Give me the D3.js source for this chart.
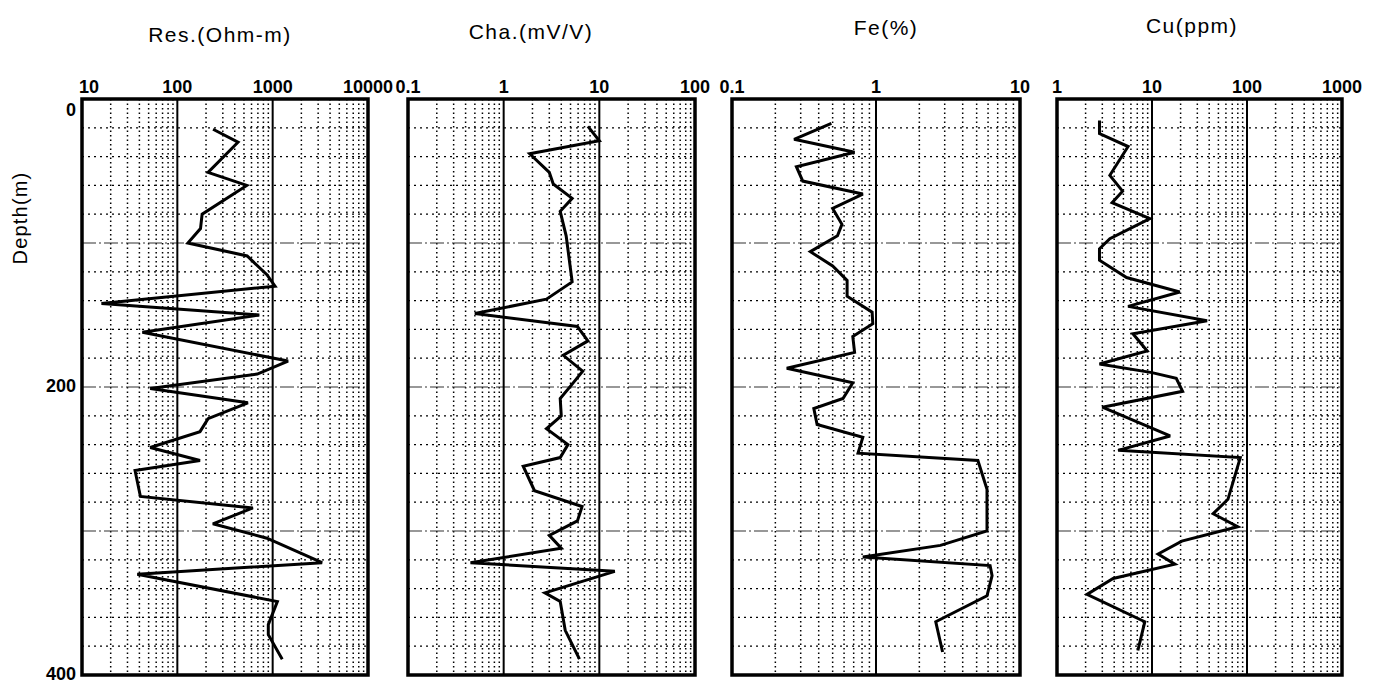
<!DOCTYPE html>
<html>
<head>
<meta charset="utf-8">
<script src="https://cdn.jsdelivr.net/npm/d3@7"></script>
<style>
  body { margin: 0; background: #fff; }
  text { font-family: "Liberation Sans", Arial, sans-serif; fill: #000; }
</style>
</head>
<body>
<svg id="chart" width="1382" height="690"></svg>
<script>
const resDepth = [21, 30, 51, 60, 80, 90, 100, 109, 122, 130, 142, 150, 162, 182, 191, 201, 211, 222, 231, 242, 251, 258, 276, 284, 295, 305, 322, 330, 349, 365, 372, 389];
const resValue = [237, 433, 210, 535, 182, 175, 129, 540, 870, 1060, 16, 724, 43, 1450, 690, 52, 550, 210, 173, 52, 173, 36, 41, 620, 236, 870, 3300, 38, 1120, 900, 900, 1260];

const chaDepth = [19, 29, 38, 51, 59, 69, 78, 95, 127, 139, 149, 158, 168, 178, 189, 198, 208, 220, 229, 240, 249, 255, 272, 283, 293, 303, 312, 322, 328, 343, 349, 369, 389];
const chaValue = [7.6, 10, 1.87, 3.0, 3.3, 5.2, 3.9, 4.5, 5.2, 2.8, 0.5, 5.9, 7.6, 4.2, 6.7, 5.2, 3.9, 4.0, 2.8, 4.7, 3.9, 1.6, 2.1, 6.6, 5.9, 3.0, 4.0, 0.45, 14.5, 2.7, 3.9, 4.4, 6.2];

const feDepth = [17, 28, 37, 47, 57, 66, 76, 87, 95, 106, 116, 126, 137, 148, 156, 165, 176, 187, 197, 208, 215, 226, 235, 246, 251, 271, 300, 310, 318, 324, 331, 345, 363, 384];
const feValue = [0.49, 0.27, 0.71, 0.28, 0.31, 0.81, 0.5, 0.58, 0.54, 0.35, 0.5, 0.63, 0.63, 0.94, 0.95, 0.69, 0.71, 0.24, 0.69, 0.59, 0.37, 0.39, 0.81, 0.75, 5.1, 5.9, 5.9, 2.8, 0.81, 6.2, 6.4, 5.9, 2.6, 2.9];

const cuDepth = [15, 24, 33, 53, 64, 72, 83, 97, 104, 112, 124, 134, 144, 154, 163, 175, 184, 190, 194, 203, 214, 234, 244, 249, 278, 288, 297, 307, 316, 323, 333, 344, 363, 383];
const cuValue = [2.8, 2.8, 5.6, 3.6, 4.9, 3.8, 9.5, 3.6, 2.8, 2.8, 5.4, 19.6, 5.6, 38, 6.3, 8.9, 2.8, 10, 18, 21, 3.0, 15.5, 4.4, 85, 63, 44, 80, 20.6, 11.6, 17.4, 3.9, 2.07, 8.4, 7.1];

const resTicks = [10, 100, 1000, 10000];
const chaTicks = [0.1, 1, 10, 100];
const feTicks = [0.1, 1, 10];
const cuTicks = [1, 10, 100, 1000];
const depthTicks = [0, 200, 400];

const titles = ["Res.(Ohm-m)", "Cha.(mV/V)", "Fe(%)", "Cu(ppm)"];

// layout of the four tracks
const panels = [
  { title: titles[0], ticks: resTicks, depth: resDepth, value: resValue, x0: 82, x1: 368, tx: 220, ty: 42 },
  { title: titles[1], ticks: chaTicks, depth: chaDepth, value: chaValue, x0: 408, x1: 695, tx: 531, ty: 39 },
  { title: titles[2], ticks: feTicks, depth: feDepth, value: feValue, x0: 732, x1: 1020, tx: 886, ty: 35 },
  { title: titles[3], ticks: cuTicks, depth: cuDepth, value: cuValue, x0: 1057, x1: 1342, tx: 1192, ty: 33 }
];

const svg = d3.select("#chart");
const y = d3.scaleLinear().domain([0, 400]).range([99, 675]);

// depth axis
svg.append("text")
  .text("Depth(m)")
  .attr("transform", "translate(27,218) rotate(-90)")
  .attr("text-anchor", "middle")
  .attr("font-size", 20)
  .attr("letter-spacing", 1.2);

svg.selectAll(".dlab")
  .data(depthTicks)
  .join("text")
  .attr("class", "dlab")
  .text((d) => d)
  .attr("x", 76)
  .attr("y", (d) => y(d) + (d === 0 ? 12 : 0))
  .attr("text-anchor", "end")
  .attr("dominant-baseline", "middle")
  .attr("font-size", 18)
  .attr("font-weight", "bold");

panels.forEach((p, pi) => {
  const x = d3.scaleLog().domain([p.ticks[0], p.ticks[p.ticks.length - 1]]).range([p.x0, p.x1]);
  const g = svg.append("g");
  const isMajor = (v) => Math.abs(Math.log10(v) - Math.round(Math.log10(v))) < 1e-6;
  const minor = x.ticks().filter((v) => !isMajor(v));
  const inner = p.ticks.slice(1, -1);

  // minor vertical grid (dotted)
  g.selectAll(".vmin")
    .data(minor)
    .join("line")
    .attr("x1", (d) => x(d))
    .attr("x2", (d) => x(d))
    .attr("y1", y(0))
    .attr("y2", y(400))
    .attr("stroke", "#000")
    .attr("stroke-width", 1.5)
    .attr("stroke-dasharray", "1.5,3");

  // horizontal grid every 20 m, dashed every 100 m
  const hs = d3.range(20, 400, 20);
  g.selectAll(".hgrid")
    .data(hs)
    .join("line")
    .attr("x1", p.x0)
    .attr("x2", p.x1)
    .attr("y1", (d) => y(d))
    .attr("y2", (d) => y(d))
    .attr("stroke", (d) => (d % 100 === 0 ? "#333" : "#000"))
    .attr("stroke-width", 1.2)
    .attr("stroke-dasharray", (d) => (d % 100 === 0 ? "14,3,2,3" : "2,4"));

  // decade lines
  g.selectAll(".vmaj")
    .data(inner)
    .join("line")
    .attr("x1", (d) => x(d))
    .attr("x2", (d) => x(d))
    .attr("y1", y(0))
    .attr("y2", y(400))
    .attr("stroke", "#000")
    .attr("stroke-width", 2);

  // border
  g.append("rect")
    .attr("x", p.x0)
    .attr("y", y(0))
    .attr("width", p.x1 - p.x0)
    .attr("height", y(400) - y(0))
    .attr("fill", "none")
    .attr("stroke", "#000")
    .attr("stroke-width", 3.5);

  // tick labels on top
  g.selectAll(".tlab")
    .data(p.ticks)
    .join("text")
    .text((d) => d)
    .attr("x", (d, i) => x(d) + (pi === 0 && i === 0 ? 7 : 0))
    .attr("y", 93)
    .attr("text-anchor", "middle")
    .attr("font-size", 18)
    .attr("font-weight", "bold");

  // title
  g.append("text")
    .text(p.title)
    .attr("x", p.tx)
    .attr("y", p.ty)
    .attr("text-anchor", "middle")
    .attr("font-size", 21)
    .attr("letter-spacing", 1.5);

  // log curve
  const pts = p.depth.map((d, i) => ({ d: d, v: p.value[i] }));
  g.append("path")
    .datum(pts)
    .attr("d", d3.line().x((d) => x(d.v)).y((d) => y(d.d)))
    .attr("fill", "none")
    .attr("stroke", "#000")
    .attr("stroke-width", 3)
    .attr("stroke-linejoin", "miter")
    .attr("stroke-miterlimit", 3);
});
</script>
</body>
</html>
